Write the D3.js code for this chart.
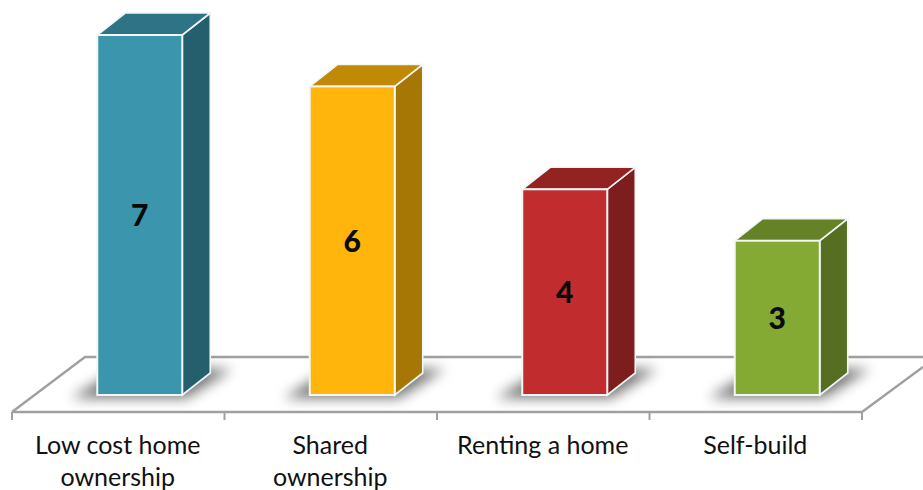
<!DOCTYPE html>
<html>
<head>
<meta charset="utf-8">
<script src="https://cdn.jsdelivr.net/npm/d3@7/dist/d3.min.js"></script>
<style>
html,body{margin:0;padding:0;background:#fff;overflow:hidden}
svg{display:block}
text{font-family:Lato,"Open Sans",sans-serif}
</style>
</head>
<body>
<svg id="chart" width="923" height="490"></svg>
<script>
const categories = ["Low cost home ownership", "Shared ownership", "Renting a home", "Self-build"];
const labelLines = [["Low cost home", "ownership"], ["Shared", "ownership"], ["Renting a home"], ["Self-build"]];
const values = [7, 6, 4, 3];
const frontColors = ["#3B95AD", "#FFB50B", "#C12D2F", "#84AA33"];
const sideColors = ["#255F6E", "#A67705", "#7E1D1E", "#566E21"];
const topColors = ["#2F7486", "#C08A06", "#932223", "#658227"];

const svg = d3.select("#chart");
const floorFront = 412, floorBack = 357, floorLeft = 12, floorRight = 862;
const base = 395, depthX = 28, depthY = 22, barW = 85, barShift = 21.5;
const lineColor = "#a0a0a0";

const x = d3.scaleBand().domain(categories).range([floorLeft, floorRight]);
const y = d3.scaleLinear().domain([0, 7]).range([base, 35]);
const poly = pts => pts.map(p => p.join(",")).join(" ");
const left = d => x(d) + (x.bandwidth() - barW) / 2 + barShift;

const defs = svg.append("defs");
defs.append("filter").attr("id", "soft")
  .attr("x", "-40%").attr("y", "-80%").attr("width", "180%").attr("height", "260%")
  .append("feGaussianBlur").attr("stdDeviation", 6.5);

// Floor plane
svg.append("polyline")
  .attr("points", poly([[floorLeft, floorFront], [85, floorBack], [923, floorBack]]))
  .attr("fill", "none").attr("stroke", lineColor).attr("stroke-width", 2.4);
svg.append("polyline")
  .attr("points", poly([[floorLeft, floorFront], [floorRight, floorFront], [923, 367]]))
  .attr("fill", "none").attr("stroke", lineColor).attr("stroke-width", 2.4);

// Category axis with ticks on the band boundaries
const axis = svg.append("g");
axis.selectAll("line").data(d3.range(categories.length + 1)).join("line")
  .attr("x1", i => floorLeft + i * x.step()).attr("x2", i => floorLeft + i * x.step())
  .attr("y1", floorFront).attr("y2", 420)
  .attr("stroke", lineColor).attr("stroke-width", 2);

const bars = svg.selectAll("g.bar").data(categories).join("g").attr("class", "bar");

// Soft floor shadows behind each bar
bars.append("polygon")
  .attr("points", d => {
    const l = left(d);
    return poly([[l - 26, base + 3], [l + barW + 4, base + 3], [l + barW + 50, base - 26], [l + 22, base - 26]]);
  })
  .attr("fill", "#000").attr("opacity", 0.55).attr("filter", "url(#soft)");

// Bar faces
bars.append("polygon").attr("class", "side")
  .attr("points", (d, i) => {
    const l = left(d) + barW, t = y(values[i]);
    return poly([[l, t], [l + depthX, t - depthY], [l + depthX, base - depthY], [l, base]]);
  })
  .attr("fill", (d, i) => sideColors[i]).attr("stroke", "#f2f6f6").attr("stroke-width", 1.6);
bars.append("polygon").attr("class", "top")
  .attr("points", (d, i) => {
    const l = left(d), t = y(values[i]);
    return poly([[l, t], [l + barW, t], [l + barW + depthX, t - depthY], [l + depthX, t - depthY]]);
  })
  .attr("fill", (d, i) => topColors[i]).attr("stroke", "#f2f6f6").attr("stroke-width", 1.6);
bars.append("rect").attr("class", "front")
  .attr("x", left).attr("width", barW)
  .attr("y", (d, i) => y(values[i])).attr("height", (d, i) => base - y(values[i]))
  .attr("fill", (d, i) => frontColors[i]).attr("stroke", "#f2f6f6").attr("stroke-width", 2);

// Value labels centred on the front faces
bars.append("text")
  .attr("x", d => left(d) + barW / 2)
  .attr("y", (d, i) => (y(values[i]) + base) / 2 + 11)
  .attr("text-anchor", "middle").attr("font-size", 30).attr("font-weight", 900).attr("fill", "#0a0a0a")
  .text((d, i) => values[i]);

// Category labels
svg.selectAll("text.cat").data(categories).join("text").attr("class", "cat")
  .attr("text-anchor", "middle").attr("font-size", 25).attr("fill", "#111")
  .each(function (d, i) {
    d3.select(this).selectAll("tspan").data(labelLines[i]).join("tspan")
      .attr("x", x(d) + x.bandwidth() / 2 - 0.5)
      .attr("y", (l, j) => 454 + j * 32)
      .text(l => l);
  });
</script>
</body>
</html>
